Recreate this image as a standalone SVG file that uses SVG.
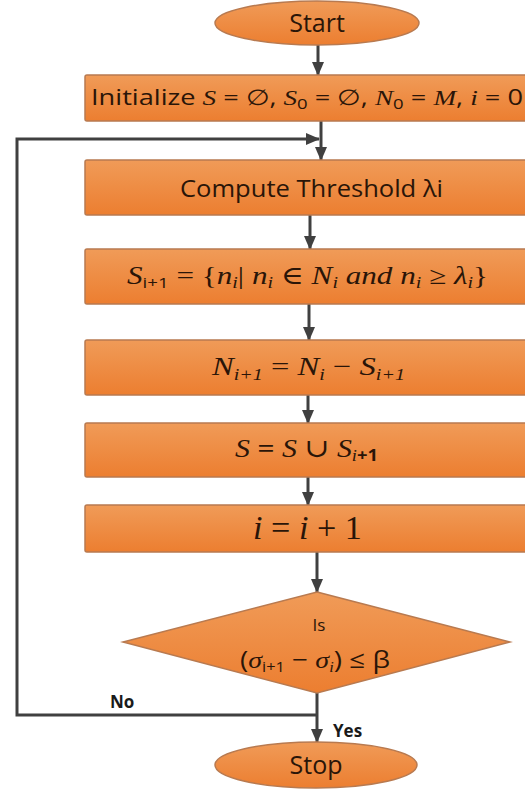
<svg xmlns="http://www.w3.org/2000/svg" width="525" height="789" viewBox="0 0 525 789">
<defs>
<linearGradient id="og" x1="0" y1="0" x2="0" y2="1">
<stop offset="0" stop-color="#F09B58"/>
<stop offset="1" stop-color="#EC7E30"/>
</linearGradient>
<marker id="ah" markerUnits="userSpaceOnUse" markerWidth="14" markerHeight="14" viewBox="0 0 14 14" refX="13" refY="7" orient="auto">
<path d="M0,1 L14,7 L0,13 Z" fill="#404040"/>
</marker>
</defs>
<style>
.box{fill:url(#og);stroke:#B87A50;stroke-width:1.5}
.t{font-family:"Open Sans","Liberation Sans",Arial,sans-serif;fill:#2A1508}
.m{font-family:"Liberation Serif","DejaVu Serif",serif;font-style:italic;fill:#2A1508}
.c{stroke:#404040;stroke-width:3;fill:none}
.lbl{font-family:"Open Sans","Liberation Sans",Arial,sans-serif;font-weight:bold;font-size:17px;fill:#1A1A1A}
</style>
<rect width="525" height="789" fill="#FFFFFF"/>
<g id="connectors">
<line class="c" x1="318" y1="45" x2="318" y2="75" marker-end="url(#ah)"/>
<line class="c" x1="321" y1="121" x2="321" y2="160" marker-end="url(#ah)"/>
<polyline class="c" points="317,715 17,715 17,139 319,139" marker-end="url(#ah)"/>
<line class="c" x1="310" y1="215" x2="310" y2="249" marker-end="url(#ah)"/>
<line class="c" x1="309" y1="304" x2="309" y2="340" marker-end="url(#ah)"/>
<line class="c" x1="308" y1="395" x2="308" y2="423" marker-end="url(#ah)"/>
<line class="c" x1="308" y1="477" x2="308" y2="505" marker-end="url(#ah)"/>
<line class="c" x1="317" y1="552" x2="317" y2="592" marker-end="url(#ah)"/>
<line class="c" x1="317" y1="693" x2="317" y2="742" marker-end="url(#ah)"/>
<text class="lbl" x="110" y="708">No</text>
<text class="lbl" x="333" y="737">Yes</text>
</g>
<g id="start">
<ellipse class="box" cx="317" cy="23" rx="102" ry="22"/>
<text class="t" x="317" y="32" font-size="25" text-anchor="middle">Start</text>
</g>
<g id="init">
<rect class="box" x="85" y="75" width="445" height="46" rx="2"/>
<text class="t" x="91" y="105" font-size="22" textLength="432" lengthAdjust="spacingAndGlyphs">Initialize <tspan class="m">S</tspan> = ∅, <tspan class="m">S</tspan><tspan font-size="15" dy="4">0</tspan><tspan dy="-4"> = ∅, </tspan><tspan class="m">N</tspan><tspan font-size="15" dy="4">0</tspan><tspan dy="-4"> = </tspan><tspan class="m">M</tspan>, <tspan class="m">i</tspan> = 0</text>
</g>
<g id="compute">
<rect class="box" x="85" y="160" width="445" height="55" rx="2"/>
<text class="t" x="180" y="197" font-size="24" textLength="263" lengthAdjust="spacingAndGlyphs">Compute Threshold λi</text>
</g>
<g id="select">
<rect class="box" x="85" y="249" width="445" height="55" rx="2"/>
<text class="m" x="127" y="284" font-size="25" textLength="361" lengthAdjust="spacingAndGlyphs">S<tspan font-size="15" dy="4" font-style="normal" class="t">i+1</tspan><tspan dy="-4" font-style="normal"> = {</tspan>n<tspan font-size="16" dy="4">i</tspan><tspan dy="-4" font-style="normal">|  </tspan>n<tspan font-size="16" dy="4">i</tspan><tspan dy="-4" font-style="normal"> ∈ </tspan>N<tspan font-size="16" dy="4">i</tspan><tspan dy="-4"> and n</tspan><tspan font-size="16" dy="4">i</tspan><tspan dy="-4" font-style="normal"> ≥ </tspan>λ<tspan font-size="16" dy="4">i</tspan><tspan dy="-4" font-style="normal">}</tspan></text>
</g>
<g id="update">
<rect class="box" x="85" y="340" width="445" height="55" rx="2"/>
<text class="m" x="212" y="375" font-size="26" textLength="193" lengthAdjust="spacingAndGlyphs">N<tspan font-size="16" dy="5">i+1</tspan><tspan dy="-5" font-style="normal"> = </tspan>N<tspan font-size="16" dy="5">i</tspan><tspan dy="-5" font-style="normal"> − </tspan>S<tspan font-size="16" dy="5">i+1</tspan></text>
</g>
<g id="union">
<rect class="box" x="85" y="423" width="445" height="54" rx="2"/>
<text class="m" x="235" y="457" font-size="26" textLength="143" lengthAdjust="spacingAndGlyphs">S<tspan font-style="normal" font-weight="bold"> = </tspan>S<tspan font-style="normal"> ∪ </tspan>S<tspan font-size="16" dy="4">i</tspan><tspan font-size="16" font-style="normal" font-weight="bold" class="t">+1</tspan></text>
</g>
<g id="increment">
<rect class="box" x="85" y="505" width="445" height="47" rx="2"/>
<text class="m" x="253" y="539" font-size="34" textLength="109" lengthAdjust="spacingAndGlyphs">i<tspan font-style="normal"> = </tspan>i<tspan font-style="normal"> + 1</tspan></text>
</g>
<g id="decision">
<polygon class="box" points="317,592 510,642 317,693 123,642"/>
<text class="t" x="319" y="631" font-size="17" text-anchor="middle">Is</text>
<text class="t" x="240" y="668" font-size="24" textLength="150" lengthAdjust="spacingAndGlyphs">(<tspan class="m">σ</tspan><tspan font-size="14" dy="4">i+1</tspan><tspan dy="-4"> − </tspan><tspan class="m">σ</tspan><tspan font-size="14" dy="4" class="m">i</tspan><tspan dy="-4">) ≤ β</tspan></text>
</g>
<g id="stop">
<ellipse class="box" cx="316" cy="765" rx="101" ry="23"/>
<text class="t" x="316" y="774" font-size="25" text-anchor="middle">Stop</text>
</g>
</svg>
